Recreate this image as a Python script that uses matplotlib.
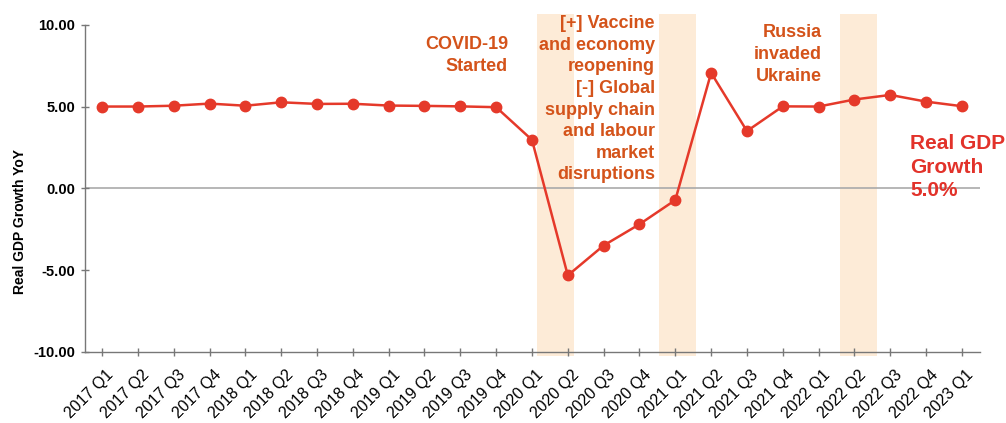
import matplotlib.pyplot as plt
from matplotlib.transforms import ScaledTranslation

plt.rcParams['font.family'] = ['Liberation Sans', 'DejaVu Sans']

# Data
quarters = ['2017 Q1', '2017 Q2', '2017 Q3', '2017 Q4',
            '2018 Q1', '2018 Q2', '2018 Q3', '2018 Q4',
            '2019 Q1', '2019 Q2', '2019 Q3', '2019 Q4',
            '2020 Q1', '2020 Q2', '2020 Q3', '2020 Q4',
            '2021 Q1', '2021 Q2', '2021 Q3', '2021 Q4',
            '2022 Q1', '2022 Q2', '2022 Q3', '2022 Q4',
            '2023 Q1']
gdp_growth = [5.01, 5.01, 5.06, 5.19,
              5.06, 5.27, 5.17, 5.18,
              5.07, 5.05, 5.02, 4.97,
              2.97, -5.32, -3.49, -2.19,
              -0.71, 7.07, 3.51, 5.02,
              5.01, 5.44, 5.72, 5.31,
              5.03]
# shaded event bands (start, end in quarter index units)
bands = [(12.15, 13.18), (15.55, 16.58), (20.6, 21.63)]

LINE_RED = '#e5392a'
NOTE_ORANGE = '#d4531a'
BAND = '#fdebd7'

fig = plt.figure(figsize=(10.06, 4.23), dpi=100)
ax = fig.add_axes([0.0845, 0.168, 0.8895, 0.773])

x = list(range(len(quarters)))

for x0, x1 in bands:
    ax.axvspan(x0, x1, ymin=-0.012, ymax=1.034, color=BAND, lw=0, clip_on=False, zorder=0)

ax.axhline(0, color='#aaaaaa', lw=1.2, zorder=1)
ax.plot(x, gdp_growth, color=LINE_RED, lw=1.8, marker='o', markersize=7.5, zorder=3)

ax.set_xlim(-0.475, 24.5)
ax.set_ylim(-10, 10)
ax.set_yticks([-10, -5, 0, 5, 10])
ax.set_yticklabels(['%.2f' % v for v in [-10, -5, 0, 5, 10]], fontweight='bold', fontsize=10.5)
ax.set_xticks(x)
ax.set_xticklabels(quarters, rotation=45, ha='right', rotation_mode='anchor', fontsize=11.5)

ax.set_ylabel('Real GDP Growth YoY', fontweight='bold', fontsize=10)
ax.yaxis.set_label_coords(-0.0647, 0.40)

for s in ['top', 'right']:
    ax.spines[s].set_visible(False)
for s in ['left', 'bottom']:
    ax.spines[s].set_color('#777777')
    ax.spines[s].set_linewidth(1.0)
ax.tick_params(axis='both', direction='inout', length=6, color='#777777', width=1.0)
ax.tick_params(axis='y', pad=4)
ax.tick_params(axis='x', pad=6)

# nudge rotated labels to the right/down like the original
shift = ScaledTranslation(4 / 100, -3 / 100, fig.dpi_scale_trans)
for lbl in ax.get_xticklabels():
    lbl.set_transform(lbl.get_transform() + shift)

# Annotations
ax.text(11.33, 9.30, 'COVID-19\nStarted', ha='right', va='top', color=NOTE_ORANGE,
        fontsize=13, fontweight='bold', linespacing=1.35)
ax.text(15.43, 10.59, '[+] Vaccine\nand economy\nreopening\n[-] Global\nsupply chain\nand labour\nmarket\ndisruptions',
        ha='right', va='top', color=NOTE_ORANGE, fontsize=13, fontweight='bold', linespacing=1.35)
ax.text(20.1, 10.03, 'Russia\ninvaded\nUkraine', ha='right', va='top', color=NOTE_ORANGE,
        fontsize=13, fontweight='bold', linespacing=1.35)
ax.text(22.55, 3.33, 'Real GDP\nGrowth\n5.0%', ha='left', va='top', color='#e2322a',
        fontsize=15, fontweight='bold', linespacing=1.3)

fig.savefig('out.png', dpi=100)
